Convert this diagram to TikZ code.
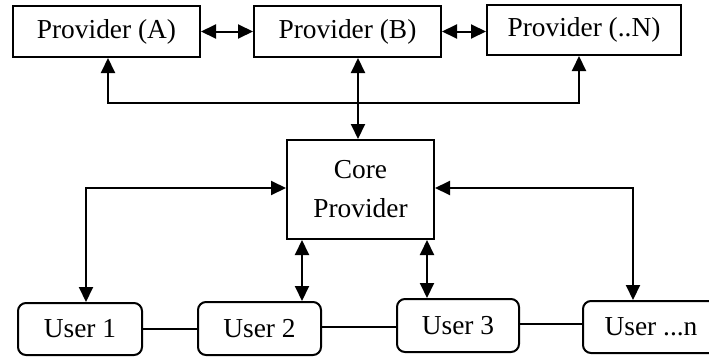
\documentclass[tikz,border=0pt]{standalone}
\usepackage{fontspec}
\setmainfont{Liberation Serif}
\usetikzlibrary{arrows.meta}
\begin{document}
\begin{tikzpicture}[x=1pt,y=-1pt,
  every node/.style={font=\fontsize{27.4}{39}\selectfont, inner sep=0pt, line width=2pt},
  provbox/.style={draw, minimum width=187pt, minimum height=51pt},
  corebox/.style={draw, align=center, minimum width=147pt, minimum height=99pt},
  userbox/.style={draw, rounded corners=8pt, minimum width=123pt, minimum height=52pt},
  conn/.style={line width=2pt},
  onearr/.style={conn, -{Triangle[length=15pt,width=14pt]}},
  twoarr/.style={conn, {Triangle[length=15pt,width=14pt]}-{Triangle[length=15pt,width=14pt]}}]
\useasboundingbox (0,0) rectangle (709,356);

% providers
\node[provbox] (A) at (106.5,31.5) {Provider (A)};
\node[provbox] (B) at (347.5,31.5) {Provider (B)};
\node[provbox, minimum width=194pt, minimum height=50pt] (N) at (584,30) {Provider (..N)};

% core provider
\node[corebox] (core) at (360.5,189.5) {Core\\Provider};

% users
\node[userbox, minimum width=124pt] (U1) at (80,329) {User 1};
\node[userbox, minimum height=53pt] (U2) at (259.5,328.5) {User 2};
\node[userbox, minimum width=122pt, minimum height=53pt] (U3) at (458,325.5) {User 3};
\node[userbox, minimum width=136pt] (Un) at (651,327) {User ...n};

% provider links
\draw[twoarr] (A.east) -- (B.west);
\draw[twoarr] (B.east) -- (B.east -| N.west);

% provider bus
\coordinate (busA) at (108,103);
\coordinate (busB) at (358,103);
\coordinate (busN) at (579,103);
\draw[onearr] (busB) -| (A.south -| busA);
\draw[onearr] (busB) -| (N.south -| busN);
\draw[onearr] (busB) -- (B.south -| busB);
\draw[onearr] (busB) -- (core.north -| busB);

% core to users
\coordinate (turnL) at (86,188);
\coordinate (turnR) at (633,188);
\coordinate (drop2) at (302,0);
\coordinate (drop3) at (427,0);
\draw[twoarr] (core.west |- turnL) -| (U1.north -| turnL);
\draw[twoarr] (core.east |- turnR) -| (Un.north -| turnR);
\draw[twoarr] (core.south -| drop2) -- (U2.north -| drop2);
\draw[twoarr] (core.south -| drop3) -- (U3.north -| drop3);

% user chain
\draw[conn] (U1.east) -- (U1.east -| U2.west);
\draw[conn] (U2.east |- 0,327) -- (U3.west |- 0,327);
\draw[conn] (U3.east |- 0,324) -- (Un.west |- 0,324);
\end{tikzpicture}
\end{document}
